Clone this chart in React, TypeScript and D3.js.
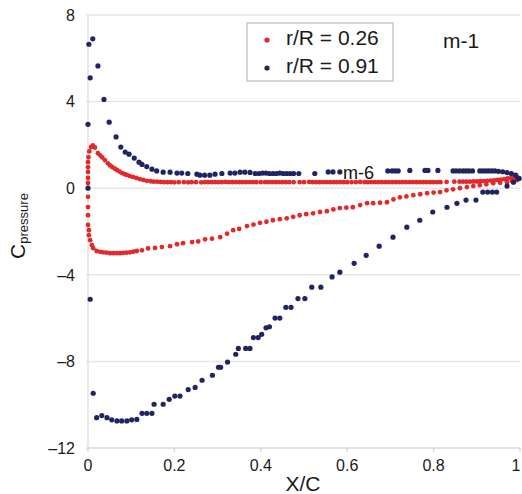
import React from 'react';
import * as d3 from 'd3';

// r/R = 0.26 (red), two surfaces
const redUpper: [number, number][] = [
  [0.0, 0.24], [0.0, 0.47], [0.0, 0.75], [0.0, 0.97], [0.0, 1.2], [0.001, 1.43], [0.003, 1.7],
  [0.007, 1.9], [0.011, 1.98], [0.016, 1.88], [0.023, 1.62], [0.028, 1.52], [0.033, 1.42],
  [0.039, 1.3], [0.046, 1.15], [0.051, 1.05], [0.056, 0.98], [0.062, 0.9], [0.067, 0.84],
  [0.073, 0.77], [0.079, 0.7], [0.085, 0.65], [0.09, 0.61], [0.097, 0.56], [0.104, 0.52],
  [0.112, 0.47], [0.12, 0.42], [0.128, 0.38], [0.136, 0.34], [0.145, 0.32], [0.152, 0.3],
  [0.16, 0.3], [0.168, 0.29], [0.176, 0.28], [0.184, 0.28], [0.192, 0.28], [0.2, 0.27],
  [0.21, 0.28], [0.222, 0.28], [0.232, 0.27], [0.24, 0.28], [0.25, 0.28], [0.262, 0.27],
  [0.27, 0.28], [0.278, 0.28], [0.286, 0.28], [0.294, 0.28], [0.302, 0.28], [0.31, 0.28],
  [0.318, 0.29], [0.326, 0.28], [0.334, 0.28], [0.342, 0.28], [0.35, 0.28], [0.358, 0.28],
  [0.366, 0.28], [0.374, 0.28], [0.382, 0.28], [0.39, 0.28], [0.4, 0.28], [0.41, 0.28],
  [0.418, 0.28], [0.426, 0.28], [0.434, 0.28], [0.442, 0.28], [0.45, 0.28], [0.458, 0.28],
  [0.466, 0.28], [0.476, 0.28], [0.49, 0.28], [0.5, 0.28], [0.512, 0.29], [0.52, 0.28],
  [0.528, 0.28], [0.536, 0.28], [0.544, 0.28], [0.552, 0.28], [0.56, 0.28], [0.568, 0.28],
  [0.576, 0.28], [0.584, 0.28], [0.592, 0.28], [0.6, 0.28], [0.61, 0.28], [0.62, 0.28],
  [0.63, 0.29], [0.64, 0.28], [0.648, 0.28], [0.656, 0.28], [0.664, 0.28], [0.672, 0.28],
  [0.68, 0.28], [0.688, 0.28], [0.696, 0.28], [0.704, 0.28], [0.712, 0.28], [0.72, 0.28],
  [0.728, 0.28], [0.736, 0.28], [0.744, 0.28], [0.752, 0.28], [0.76, 0.28], [0.768, 0.28],
  [0.776, 0.28], [0.784, 0.28], [0.792, 0.28], [0.8, 0.28], [0.808, 0.28], [0.816, 0.28],
  [0.83, 0.29], [0.848, 0.3], [0.86, 0.3], [0.868, 0.3], [0.876, 0.3], [0.884, 0.3],
  [0.892, 0.31], [0.9, 0.31], [0.908, 0.32], [0.916, 0.33], [0.924, 0.34], [0.932, 0.35],
  [0.94, 0.36], [0.948, 0.38], [0.956, 0.4], [0.964, 0.42], [0.972, 0.45], [0.98, 0.47],
  [0.988, 0.5], [0.996, 0.48],
];

const redLower: [number, number][] = [
  [0.0, -0.4], [0.0, -0.87], [0.0, -1.25], [0.0, -1.7], [0.002, -1.94], [0.002, -2.17],
  [0.005, -2.4], [0.009, -2.63], [0.012, -2.77], [0.02, -2.9], [0.028, -2.94], [0.035, -2.96],
  [0.043, -2.98], [0.051, -3.0], [0.059, -3.0], [0.067, -3.0], [0.074, -3.0], [0.081, -2.99],
  [0.089, -2.98], [0.097, -2.96], [0.105, -2.93], [0.113, -2.9], [0.125, -2.87], [0.139, -2.78],
  [0.155, -2.76], [0.171, -2.72], [0.19, -2.68], [0.206, -2.59], [0.22, -2.54], [0.241, -2.49],
  [0.255, -2.46], [0.271, -2.36], [0.287, -2.33], [0.306, -2.26], [0.322, -2.1], [0.336, -1.94],
  [0.35, -1.88], [0.368, -1.75], [0.383, -1.68], [0.398, -1.6], [0.413, -1.55], [0.428, -1.48],
  [0.444, -1.43], [0.46, -1.39], [0.475, -1.32], [0.49, -1.25], [0.505, -1.2], [0.521, -1.16],
  [0.537, -1.1], [0.553, -1.06], [0.568, -0.98], [0.583, -0.92], [0.598, -0.9], [0.613, -0.88],
  [0.63, -0.78], [0.646, -0.69], [0.66, -0.69], [0.676, -0.67], [0.692, -0.65], [0.707, -0.52],
  [0.722, -0.42], [0.737, -0.38], [0.753, -0.32], [0.769, -0.28], [0.785, -0.23], [0.8, -0.2],
  [0.815, -0.18], [0.83, -0.1], [0.845, -0.05], [0.861, 0.0], [0.877, 0.05], [0.892, 0.1],
  [0.907, 0.14], [0.922, 0.18], [0.938, 0.23], [0.954, 0.25], [0.97, 0.28], [0.982, 0.32],
  [0.993, 0.37],
];

// r/R = 0.91 (blue), two surfaces
const blueUpper: [number, number][] = [
  [0.0, 0.0], [0.0, 2.95], [0.005, 5.1], [0.002, 6.65], [0.011, 6.9], [0.023, 5.65],
  [0.037, 4.1], [0.049, 3.05], [0.065, 2.37], [0.076, 1.9], [0.086, 1.67], [0.095, 1.57],
  [0.107, 1.39], [0.118, 1.2], [0.125, 1.1], [0.136, 1.0], [0.148, 0.88], [0.159, 0.8],
  [0.174, 0.74], [0.19, 0.74], [0.206, 0.7], [0.217, 0.7], [0.231, 0.68], [0.252, 0.65],
  [0.259, 0.6], [0.27, 0.6], [0.282, 0.6], [0.294, 0.65], [0.31, 0.68], [0.329, 0.7],
  [0.34, 0.7], [0.352, 0.74], [0.363, 0.74], [0.375, 0.73], [0.387, 0.68], [0.396, 0.68],
  [0.404, 0.7], [0.412, 0.7], [0.42, 0.68], [0.428, 0.68], [0.436, 0.68], [0.444, 0.7],
  [0.452, 0.68], [0.46, 0.68], [0.468, 0.68], [0.476, 0.68], [0.488, 0.68], [0.525, 0.68],
  [0.556, 0.75], [0.567, 0.75], [0.583, 0.75], [0.694, 0.8], [0.704, 0.8], [0.711, 0.8],
  [0.718, 0.8], [0.745, 0.82], [0.78, 0.82], [0.787, 0.82], [0.81, 0.82], [0.845, 0.8],
  [0.852, 0.8], [0.86, 0.8], [0.868, 0.8], [0.875, 0.8], [0.882, 0.8], [0.89, 0.8],
  [0.907, 0.8], [0.914, 0.8], [0.921, 0.8], [0.928, 0.8], [0.935, 0.8], [0.942, 0.8],
  [0.95, 0.78], [0.96, 0.76], [0.97, 0.72], [0.98, 0.68], [0.99, 0.6], [0.998, 0.45],
];

const blueLower: [number, number][] = [
  [0.005, -5.13], [0.012, -9.47], [0.02, -10.6], [0.032, -10.5], [0.044, -10.6], [0.055, -10.7],
  [0.067, -10.75], [0.078, -10.75], [0.09, -10.75], [0.101, -10.7], [0.113, -10.68],
  [0.125, -10.4], [0.136, -10.4], [0.148, -10.4], [0.153, -9.98], [0.174, -9.98], [0.188, -9.75],
  [0.201, -9.6], [0.213, -9.6], [0.232, -9.3], [0.248, -9.2], [0.264, -8.87], [0.288, -8.64],
  [0.302, -8.27], [0.307, -8.27], [0.323, -8.03], [0.342, -7.67], [0.348, -7.4], [0.365, -7.4],
  [0.375, -7.4], [0.383, -6.9], [0.394, -6.9], [0.402, -6.75], [0.412, -6.45], [0.42, -6.4],
  [0.433, -6.0], [0.444, -6.0], [0.458, -5.5], [0.47, -5.5], [0.486, -5.1], [0.502, -5.1],
  [0.518, -4.57], [0.539, -4.57], [0.565, -4.1], [0.583, -3.88], [0.616, -3.47], [0.644, -3.1],
  [0.674, -2.68], [0.706, -2.26], [0.738, -1.8], [0.768, -1.48], [0.798, -1.1], [0.831, -0.88],
  [0.854, -0.7], [0.875, -0.55], [0.898, -0.55], [0.914, -0.18], [0.925, -0.18], [0.936, -0.18],
  [0.946, -0.18], [0.97, 0.1], [0.985, 0.28], [0.995, 0.46],
];

const xTicks = [0, 0.2, 0.4, 0.6, 0.8, 1];
const xTickLabels = ['0', '0.2', '0.4', '0.6', '0.8', '1'];
const yTicks = [8, 4, 0, -4, -8, -12];
const yTickLabels = ['8', '4', '0', '\u20134', '\u20138', '\u201312'];
const seriesNames = ['r/R = 0.26', 'r/R = 0.91'];
const seriesColors = ['#e3292b', '#1f2462'];

const W = 522;
const H = 494;
const font = 'Arial, "Liberation Sans", Helvetica, sans-serif';

export default function App() {
  const x = d3.scaleLinear().domain([0, 1]).range([88, 520]);
  const y = d3.scaleLinear().domain([-12, 8]).range([448, 15]);

  const groups = [
    { pts: redUpper, color: seriesColors[0], r: 2.4 },
    { pts: redLower, color: seriesColors[0], r: 2.4 },
    { pts: blueUpper, color: seriesColors[1], r: 2.6 },
    { pts: blueLower, color: seriesColors[1], r: 2.6 },
  ];

  return (
    <svg width={W} height={H} style={{ position: 'absolute', left: 0, top: 0, background: '#fff' }}
      fontFamily={font}>
      <rect width={W} height={H} fill="#fff" />
      {yTicks.map((t) => (
        <line key={'g' + t} x1={x(0) - 2} x2={x(1)} y1={y(t)} y2={y(t)}
          stroke={t === -12 ? '#d8d8d8' : '#e6e6e6'} strokeWidth={1.5} />
      ))}
      <line x1={x(0)} x2={x(0)} y1={y(8)} y2={y(-12)} stroke="#e2e2e2" strokeWidth={1.5} />
      {xTicks.map((t) => (
        <line key={'t' + t} x1={x(t)} x2={x(t)} y1={y(-12)} y2={y(-12) + 4} stroke="#d0d0d0" strokeWidth={1.2} />
      ))}
      {yTicks.map((t, i) => (
        <text key={'yl' + t} x={75} y={y(t)} dy="0.36em" textAnchor="end" fontSize={16} fill="#1a1a1a">
          {yTickLabels[i]}
        </text>
      ))}
      {xTicks.map((t, i) => (
        <text key={'xl' + t} x={Math.min(x(t), W - 6)} y={471} textAnchor="middle" fontSize={16} fill="#1a1a1a">
          {xTickLabels[i]}
        </text>
      ))}
      <text x={303} y={491} textAnchor="middle" fontSize={21} fill="#1a1a1a">X/C</text>
      <text transform="translate(25,226) rotate(-90)" textAnchor="middle" fill="#1a1a1a">
        <tspan fontSize={21}>C</tspan>
        <tspan fontSize={13} dy={3}>pressure</tspan>
      </text>
      {groups.map((g, gi) => (
        <g key={'s' + gi} fill={g.color}>
          {g.pts.map((d, i) => (
            <circle key={i} cx={x(d[0])} cy={y(d[1])} r={g.r} />
          ))}
        </g>
      ))}
      <text x={343} y={179} fontSize={18} fill="#111">m-6</text>
      <rect x={247} y={23} width={146} height={58} fill="#fff" stroke="#c9c9c9" strokeWidth={1.5} />
      {seriesNames.map((n, i) => (
        <g key={n}>
          <circle cx={267} cy={40 + i * 28} r={2.6} fill={seriesColors[i]} />
          <text x={286} y={45 + i * 28} fontSize={21} fill="#1a1a1a">{n}</text>
        </g>
      ))}
      <text x={443} y={48} fontSize={21} fill="#1a1a1a">m-1</text>
    </svg>
  );
}
